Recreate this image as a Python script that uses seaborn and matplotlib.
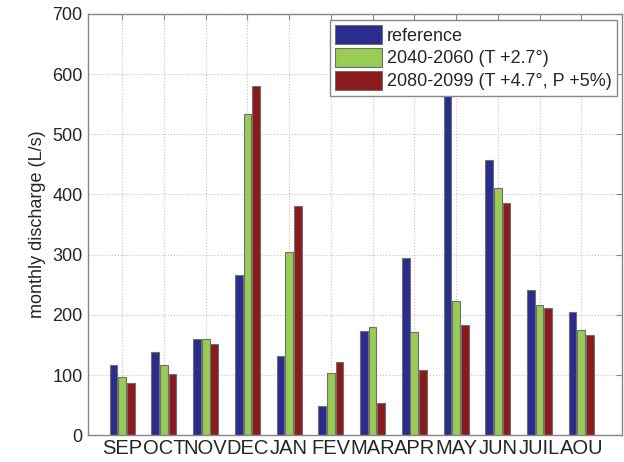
import pandas as pd
import numpy as np
import matplotlib
matplotlib.use('Agg')
import matplotlib.pyplot as plt
import seaborn as sns

# Monthly discharge values (L/s)
months = ['SEP', 'OCT', 'NOV', 'DEC', 'JAN', 'FEV', 'MAR', 'APR', 'MAY', 'JUN', 'JUIL', 'AOU']
series_names = ['reference', '2040-2060 (T +2.7°)', '2080-2099 (T +4.7°, P +5%)']
reference = [117, 138, 159, 266, 131, 48, 173, 294, 620, 458, 242, 205]
mid_century = [96, 117, 159, 533, 304, 103, 179, 171, 223, 411, 216, 174]
end_century = [87, 101, 151, 580, 381, 121, 54, 109, 183, 386, 212, 166]
bar_colors = ['#2a2d8c', '#98cc54', '#8b1a1c']

# Long-form table for seaborn
data = pd.DataFrame({
    'month': months * 3,
    'scenario': np.repeat(series_names, len(months)),
    'discharge': reference + mid_century + end_century,
})

sns.set_style('white')
plt.rcParams['font.family'] = ['Liberation Sans', 'DejaVu Sans']

fig = plt.figure(figsize=(6.24, 4.62), dpi=100)
ax = fig.add_axes([0.141, 0.058, 0.856, 0.912])

sns.barplot(data=data, x='month', y='discharge', hue='scenario', order=months,
            hue_order=series_names, palette=bar_colors, saturation=1, width=0.62, gap=0.1,
            edgecolor='#707070', linewidth=0.8, errorbar=None, ax=ax, zorder=2)

ax.set_ylim(0, 700)
ax.set_xlim(-0.82, 11.98)
ax.set_yticks(range(0, 701, 100))
ax.set_xlabel('')
ax.set_ylabel('monthly discharge (L/s)', fontsize=13)

# Dotted grid, ticks inside on all four sides
ax.grid(True, linestyle=':', color='#c4c4c4', linewidth=0.8, zorder=0)
ax.set_axisbelow(True)
ax.tick_params(direction='in', top=True, right=True, length=4, color='#888888',
               labelsize=13, pad=4)
ax.tick_params(axis='x', labelsize=14.5, pad=3)
for side in ax.spines.values():
    side.set_color('#888888')
    side.set_linewidth(1.0)

leg = ax.legend(loc='upper right', fontsize=13, frameon=True, fancybox=False,
                edgecolor='#888888', framealpha=1, handlelength=2.6, handleheight=1.2,
                handletextpad=0.25, borderpad=0.3, labelspacing=0.2,
                borderaxespad=0, bbox_to_anchor=(0.9906, 0.986))
leg.get_frame().set_linewidth(1.0)

fig.savefig('out.png', dpi=100)
